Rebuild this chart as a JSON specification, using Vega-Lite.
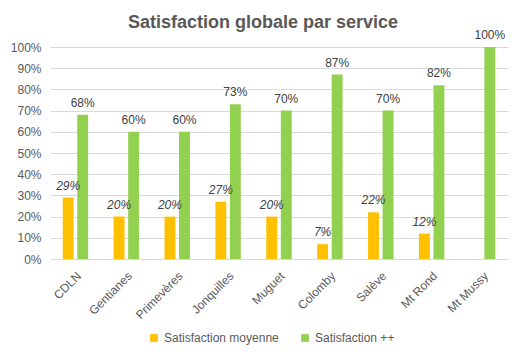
{
  "$schema": "https://vega.github.io/schema/vega-lite/v6.json",
  "width": 458,
  "height": 212,
  "autosize": {"type": "none"},
  "padding": {"left": 50, "top": 47, "right": 18, "bottom": 97},
  "background": "white",
  "config": {"font": "Liberation Sans", "view": {"stroke": null}},
  "title": {
    "text": "Satisfaction globale par service",
    "fontSize": 18,
    "fontWeight": "bold",
    "color": "#595959",
    "anchor": "middle",
    "dx": -16,
    "offset": -3
  },
  "data": {
    "values": [
      {"service": "CDLN", "serie": "Satisfaction moyenne", "value": 0.29},
      {"service": "Gentianes", "serie": "Satisfaction moyenne", "value": 0.20},
      {"service": "Primevères", "serie": "Satisfaction moyenne", "value": 0.20},
      {"service": "Jonquilles", "serie": "Satisfaction moyenne", "value": 0.27},
      {"service": "Muguet", "serie": "Satisfaction moyenne", "value": 0.20},
      {"service": "Colomby", "serie": "Satisfaction moyenne", "value": 0.07},
      {"service": "Salève", "serie": "Satisfaction moyenne", "value": 0.22},
      {"service": "Mt Rond", "serie": "Satisfaction moyenne", "value": 0.12},
      {"service": "CDLN", "serie": "Satisfaction ++", "value": 0.68},
      {"service": "Gentianes", "serie": "Satisfaction ++", "value": 0.60},
      {"service": "Primevères", "serie": "Satisfaction ++", "value": 0.60},
      {"service": "Jonquilles", "serie": "Satisfaction ++", "value": 0.73},
      {"service": "Muguet", "serie": "Satisfaction ++", "value": 0.70},
      {"service": "Colomby", "serie": "Satisfaction ++", "value": 0.87},
      {"service": "Salève", "serie": "Satisfaction ++", "value": 0.70},
      {"service": "Mt Rond", "serie": "Satisfaction ++", "value": 0.82},
      {"service": "Mt Mussy", "serie": "Satisfaction ++", "value": 1.0}
    ]
  },
  "encoding": {
    "x": {
      "field": "service",
      "type": "nominal",
      "sort": ["CDLN", "Gentianes", "Primevères", "Jonquilles", "Muguet", "Colomby", "Salève", "Mt Rond", "Mt Mussy"],
      "scale": {"paddingInner": 0.5, "paddingOuter": 0.25},
      "axis": {
        "title": null,
        "labelAngle": -45,
        "ticks": false,
        "domainColor": "#d9d9d9",
        "labelColor": "#595959",
        "labelFontSize": 12,
        "labelPadding": 11
      }
    },
    "xOffset": {
      "field": "serie",
      "type": "nominal",
      "scale": {"domain": ["Satisfaction moyenne", "Satisfaction ++"], "paddingInner": 0.25}
    },
    "y": {
      "field": "value",
      "type": "quantitative",
      "scale": {"domain": [0, 1]},
      "axis": {
        "title": null,
        "values": [0, 0.1, 0.2, 0.3, 0.4, 0.5, 0.6, 0.7, 0.8, 0.9, 1],
        "format": ".0%",
        "domain": false,
        "ticks": false,
        "gridColor": "#d9d9d9",
        "labelColor": "#595959",
        "labelFontSize": 12,
        "labelPadding": 9
      }
    }
  },
  "layer": [
    {
      "mark": {"type": "bar"},
      "encoding": {
        "color": {
          "field": "serie",
          "type": "nominal",
          "scale": {"domain": ["Satisfaction moyenne", "Satisfaction ++"], "range": ["#FFC000", "#92D050"]},
          "legend": {
            "title": null,
            "orient": "none",
            "legendX": 98,
            "legendY": 285,
            "direction": "horizontal",
            "symbolType": "square",
            "symbolSize": 60,
            "symbolStrokeWidth": 0,
            "labelFontSize": 12,
            "labelColor": "#595959",
            "columnPadding": 20
          }
        }
      }
    },
    {
      "transform": [{"filter": "datum.serie === 'Satisfaction moyenne'"}],
      "mark": {"type": "text", "fontStyle": "italic", "baseline": "bottom", "dy": -5, "fontSize": 12, "color": "#404040"},
      "encoding": {"text": {"field": "value", "type": "quantitative", "format": ".0%"}}
    },
    {
      "transform": [{"filter": "datum.serie === 'Satisfaction ++'"}],
      "mark": {"type": "text", "baseline": "bottom", "dy": -5, "fontSize": 12, "color": "#404040"},
      "encoding": {"text": {"field": "value", "type": "quantitative", "format": ".0%"}}
    }
  ]
}
